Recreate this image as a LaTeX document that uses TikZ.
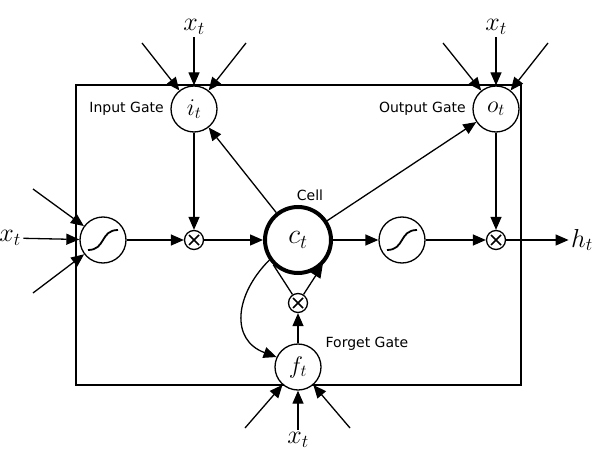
\RequirePackage{fix-cm}
\documentclass[tikz,border=0pt]{standalone}
\usepackage{amsmath}
\usepackage{amssymb}
\usepackage{fontspec}
\newfontfamily\gatefont{DejaVu Sans}
\usepackage{tikz}
\usetikzlibrary{arrows.meta}
\usetikzlibrary{positioning}

\begin{document}
\begin{tikzpicture}[x=1pt, y=1pt, every path/.style={line width=1.3pt},
    gate/.style={circle, draw, minimum size=46pt, inner sep=0pt, fill=white, font=\fontsize{24}{28}\selectfont},
    squash/.style={gate, path picture={\draw[line width=1.8pt, shift={(path picture bounding box.center)}] (-15,-10) .. controls (3,-10) and (-3,10) .. (15,10);}},
    mult/.style={circle, draw, minimum size=19pt, inner sep=0pt, fill=white, path picture={\draw[line width=1.7pt, shift={(path picture bounding box.center)}] (-5,-5) -- (5,5) (-5,5) -- (5,-5);}},
    arr/.style={-{Triangle[length=13pt,width=11pt]}},
    lbl/.style={font=\gatefont\fontsize{14}{16}\selectfont, inner sep=0pt},
    var/.style={font=\fontsize{26}{30}\selectfont, inner sep=2pt}]

    \useasboundingbox (0,0) rectangle (596,464);

    \draw (76,79) rectangle (521,379);

    \node[gate] (i) at (194,355) {$i_t$};
    \node[gate] (o) at (496,355) {$o_t$};
    \node[gate] (f) at (298,97) {$f_t$};
    \node[gate, line width=4pt, minimum size=66pt, font=\fontsize{28}{32}\selectfont] (c) at (298,224) {$c_t$};
    \node[squash] (g) at (103,224) {};
    \node[squash] (s) at (402,224) {};
    \node[mult] (mi) at (194,224) {};
    \node[mult] (mo) at (496,224) {};
    \node[mult] (mf) at (298,161) {};

    \node[lbl, left=6pt of i] (il) {Input Gate};
    \node[lbl, left=6pt of o] (ol) {Output Gate};
    \node[lbl, above=4pt of c, xshift=12pt] (cl) {Cell};
    \node[lbl, anchor=west] (fl) at (325,120) {Forget Gate};

    \node[var] (xi) at (194,437) {$x_t$};
    \node[var] (xo) at (496,437) {$x_t$};
    \node[var] (xf) at (298,24) {$x_t$};
    \node[var] (xg) at (10,226) {$x_t$};
    \node[var] (h) at (582,224) {$h_t$};

    \coordinate (i1) at (142,421);
    \coordinate (i2) at (246,421);
    \coordinate (o1) at (443,421);
    \coordinate (o2) at (548,421);
    \coordinate (f1) at (245,36);
    \coordinate (f2) at (350,36);
    \coordinate (g1) at (33,275);
    \coordinate (g2) at (33,171);

    % inputs to the gates
    \draw[arr] (i1) -- (i);
    \draw[arr] (xi) -- (i);
    \draw[arr] (i2) -- (i);
    \draw[arr] (o1) -- (o);
    \draw[arr] (xo) -- (o);
    \draw[arr] (o2) -- (o);
    \draw[arr] (f1) -- (f);
    \draw[arr] (xf) -- (f);
    \draw[arr] (f2) -- (f);
    \draw[arr] (g1) -- (g);
    \draw[arr] (xg) -- (g);
    \draw[arr] (g2) -- (g);

    % main line
    \draw[arr] (g) -- (mi);
    \draw[arr] (i) -- (mi);
    \draw[arr] (mi) -- (c);
    \draw[arr] (c) -- (s);
    \draw[arr] (s) -- (mo);
    \draw[arr] (o) -- (mo);
    \draw[arr] (mo) -- (h);

    % peepholes and the cell loop
    \draw[arr] (c) -- (i);
    \draw[arr] (c) -- (o);
    \draw[arr] (c.215) to[out=225, in=160, looseness=1.3] (f.155);
    \draw (c.225) -- (mf);
    \draw[arr] (mf) -- (c.315);
    \draw[arr] (f) -- (mf);

\end{tikzpicture}
\end{document}
